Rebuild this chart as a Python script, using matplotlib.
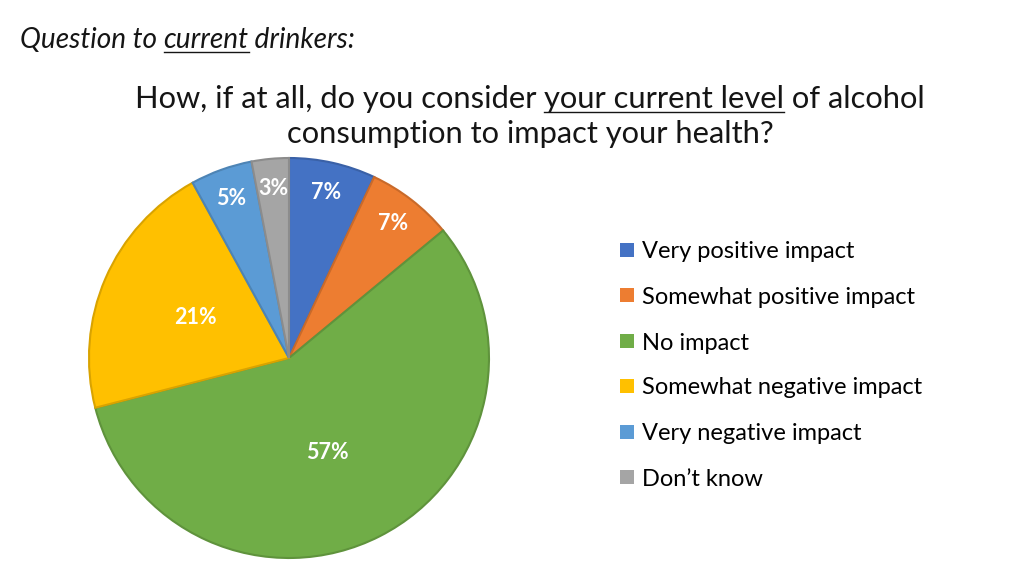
import matplotlib
matplotlib.use("Agg")
import matplotlib.pyplot as plt
import matplotlib.colors as mcolors
from matplotlib.patches import Rectangle
from matplotlib.lines import Line2D
import numpy as np

categories = ['Very positive impact', 'Somewhat positive impact', 'No impact',
              'Somewhat negative impact', 'Very negative impact', 'Don\u2019t know']
shares = [7, 7, 57, 21, 5, 3]
colors = ['#4472C4', '#ED7D31', '#70AD47', '#FFC000', '#5B9BD5', '#A5A5A5']

FONT = 'Lato'
W, H = 1024, 576

fig = plt.figure(figsize=(W / 100, H / 100), dpi=100)
fig.patch.set_facecolor('white')

# pie axes: centre (289, 358) px, radius 200 px
cx, cy, r = 289, 358, 200
ax = fig.add_axes([(cx - r) / W, (H - cy - r) / H, 2 * r / W, 2 * r / H])

edge = [tuple(np.array(mcolors.to_rgb(c)) * 0.85) for c in colors]
wedges, _ = ax.pie(shares, colors=colors, startangle=90, counterclock=False,
                   radius=1, wedgeprops=dict(linewidth=1.5))
for w, e in zip(wedges, edge):
    w.set_edgecolor(e)
ax.set_xlim(-1, 1)
ax.set_ylim(-1, 1)
ax.set_aspect('equal')
ax.axis('off')

for w, v in zip(wedges, shares):
    mid = (w.theta1 + w.theta2) / 2
    d = 0.85 if v < 10 else 0.51
    if v > 50:
        mid -= 5  # excel nudges the big one a bit clockwise
    mid = np.deg2rad(mid)
    ax.text(d * np.cos(mid), d * np.sin(mid), f'{v}%', ha='center', va='center',
            color='white', fontsize=15.5, fontweight='bold', family=FONT)

renderer = fig.canvas.get_renderer()


def pieces(parts, x0, y, size, weight='normal', style='normal', center=False):
    """draw text pieces one after another, underline flagged ones"""
    objs = []
    for txt, ul in parts:
        t = fig.text(0, y / H, txt, fontsize=size, family=FONT, fontweight=weight,
                     style=style, va='baseline', ha='left', color='#151515')
        objs.append((t, ul))
    widths = [t.get_window_extent(renderer).width for t, _ in objs]
    total = sum(widths)
    x = x0 - total / 2 if center else x0
    for (t, ul), wd in zip(objs, widths):
        t.set_x(x / W)
        if ul:
            yy = y - size * 0.2
            fig.add_artist(Line2D([x / W, (x + wd) / W], [yy / H, yy / H],
                                  color='#151515', linewidth=1.0))
        x += wd


pieces([('Question to ', False), ('current', True), (' drinkers:', False)],
       20, H - 48, 20.2, style='italic')

pieces([('How, if at all, do you consider ', False), ('your current level', True),
        (' of alcohol', False)], 530, H - 108, 22.2, center=True)
pieces([('consumption to impact your health?', False)], 530, H - 143, 22.2,
       center=True)

# legend
row_y = [250, 295, 341, 386, 432, 477]
for name, c, yy in zip(categories, colors, row_y):
    fig.add_artist(Rectangle(((620) / W, (H - yy - 7) / H), 14 / W, 14 / H,
                             facecolor=c, edgecolor='none', transform=fig.transFigure))
    fig.text(642 / W, (H - yy - 2) / H, name, fontsize=17, family=FONT,
             va='center', ha='left')

fig.savefig('out.png', dpi=100)
